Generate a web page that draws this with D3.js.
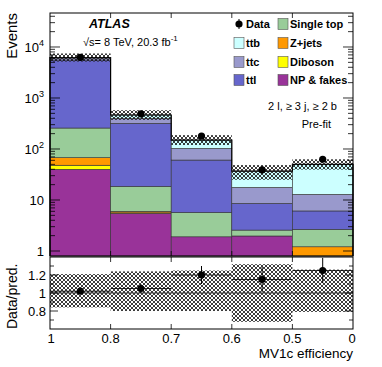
<!DOCTYPE html>
<html>
<head>
<meta charset="utf-8">
<script src="https://cdn.jsdelivr.net/npm/d3@7"></script>
<style>
  body { margin: 0; background: #fff; }
  svg { font-family: "Liberation Sans", Arial, sans-serif; }
</style>
</head>
<body>
<div id="chart"></div>
<script>
// bin edges (MV1c efficiency), 5 bins
const edgeLabels = ["1", "0.8", "0.7", "0.6", "0.5", "0"];
const bins = [0, 1, 2, 3, 4];

// stacked backgrounds, bottom -> top
const keys = ["NP & fakes", "Diboson", "Z+jets", "Single top", "ttl", "ttc", "ttb"];
const npFakes   = [40, 5.5, 1.9, 1.97, 0.2];
const diboson   = [8, 0.1, 0, 0, 0.05];
const zjets     = [19.6, 0.4, 0, 0, 0.96];
const singleTop = [190, 12.5, 3.8, 0.6, 1.45];
const ttl       = [5300, 300, 55, 6.0, 3.44];
const ttc       = [560, 82, 42, 9.1, 6.8];
const ttb       = [50, 64, 47, 19, 37];

const dataVals = [6260, 490, 180, 39, 63];
const dataErr  = [80, 22, 13, 6, 8];

// relative systematic band (up / down)
const uncUp   = [0.21, 0.24, 0.25, 0.32, 0.26];
const uncDown = [0.16, 0.20, 0.20, 0.32, 0.21];

// ratio panel
const ratioVals = [1.02, 1.05, 1.20, 1.15, 1.25];
const ratioErr  = [0.02, 0.05, 0.10, 0.14, 0.14];

const colors = {
  "NP & fakes": "#993399", "Diboson": "#ffff00", "Z+jets": "#ff9900",
  "Single top": "#99cc99", "ttl": "#6666cc", "ttc": "#9999cc", "ttb": "#ccffff"
};

const W = 382, H = 367;
const L = 50, R = 353, mainTop = 13, mainBot = 256, ratTop = 257, ratBot = 329;

const svg = d3.select("#chart").append("svg").attr("width", W).attr("height", H);

const defs = svg.append("defs");
const pat = defs.append("pattern").attr("id", "hatch")
  .attr("patternUnits", "userSpaceOnUse").attr("width", 4).attr("height", 4);
pat.append("path").attr("d", "M0,0 L4,4 M4,0 L0,4 M-1,3 L1,5 M3,-1 L5,1 M-1,1 L1,-1 M3,5 L5,3")
  .attr("stroke", "#1a1a1a").attr("stroke-width", 0.85).attr("fill", "none");

const x = d3.scaleLinear().domain([0, 5]).range([L, R]);
const y = d3.scaleLog().domain([0.798, 46400]).range([mainBot, mainTop]).clamp(true);
const yr = d3.scaleLinear().domain([0.6, 1.4]).range([ratBot, ratTop]);

const table = bins.map(i => ({
  bin: i,
  "NP & fakes": npFakes[i], "Diboson": diboson[i], "Z+jets": zjets[i],
  "Single top": singleTop[i], "ttl": ttl[i], "ttc": ttc[i], "ttb": ttb[i]
}));
const series = d3.stack().keys(keys)(table);
const totals = table.map(d => keys.reduce((s, k) => s + d[k], 0));

// main panel
const main = svg.append("g");
main.selectAll("g.layer").data(series).join("g").attr("class", "layer")
  .attr("fill", d => colors[d.key])
  .selectAll("rect").data(d => d).join("rect")
  .attr("x", d => x(d.data.bin))
  .attr("width", x(1) - x(0))
  .attr("y", d => y(Math.max(d[1], 0.5)))
  .attr("height", d => Math.max(0, y(Math.max(d[0], 0.5)) - y(Math.max(d[1], 0.5))))
  .attr("stroke", "#333").attr("stroke-width", 0.6);

// total outline
const stepPts = [];
bins.forEach(i => { stepPts.push([x(i), y(totals[i])]); stepPts.push([x(i + 1), y(totals[i])]); });
main.append("path")
  .attr("d", `M${x(0)},${mainBot}L` + stepPts.map(p => p.join(",")).join("L") + `L${x(5)},${mainBot}`)
  .attr("fill", "none").attr("stroke", "#000").attr("stroke-width", 1.2);

// uncertainty band
main.selectAll("rect.unc").data(bins).join("rect").attr("class", "unc")
  .attr("x", i => x(i)).attr("width", x(1) - x(0))
  .attr("y", i => y(totals[i] * (1 + uncUp[i])))
  .attr("height", i => y(totals[i] * (1 - uncDown[i])) - y(totals[i] * (1 + uncUp[i])))
  .attr("fill", "url(#hatch)");

// data
main.selectAll("line.err").data(bins).join("line").attr("class", "err")
  .attr("x1", i => x(i + 0.5)).attr("x2", i => x(i + 0.5))
  .attr("y1", i => y(dataVals[i] + dataErr[i])).attr("y2", i => y(dataVals[i] - dataErr[i]))
  .attr("stroke", "#000").attr("stroke-width", 1);
main.selectAll("circle.dat").data(bins).join("circle").attr("class", "dat")
  .attr("cx", i => x(i + 0.5)).attr("cy", i => y(dataVals[i])).attr("r", 3.6).attr("fill", "#000");

// main frame
svg.append("rect").attr("x", L).attr("y", mainTop).attr("width", R - L).attr("height", mainBot - mainTop)
  .attr("fill", "none").attr("stroke", "#000").attr("stroke-width", 1);

// log ticks (left and right, inward)
const logTicks = [];
for (let e = 0; e <= 4; e++) for (let m = 1; m <= 9; m++) logTicks.push({ v: m * Math.pow(10, e), major: m === 1 });
const lt = logTicks.filter(t => t.v >= 0.8 && t.v <= 46400);
svg.append("g").selectAll("line").data(lt).join("line")
  .attr("x1", L).attr("x2", d => L + (d.major ? 10 : 5))
  .attr("y1", d => y(d.v)).attr("y2", d => y(d.v)).attr("stroke", "#000").attr("stroke-width", 0.8);
svg.append("g").selectAll("line").data(lt).join("line")
  .attr("x1", R).attr("x2", d => R - (d.major ? 10 : 5))
  .attr("y1", d => y(d.v)).attr("y2", d => y(d.v)).attr("stroke", "#000").attr("stroke-width", 0.8);

// y tick labels
const ylab = svg.append("g").attr("font-size", 13).attr("text-anchor", "end");
[0, 1, 2, 3, 4].forEach(e => {
  const t = ylab.append("text").attr("x", 44).attr("y", y(Math.pow(10, e)) + 5);
  if (e === 0) t.text("1");
  else if (e === 1) t.text("10");
  else { t.append("tspan").text("10"); t.append("tspan").attr("dy", -6).attr("font-size", 9).text(e); }
});

// x edge ticks on both panels
const edges = d3.range(0, 6);
[[mainTop, 5], [mainBot, -5], [ratTop, 5], [ratBot, -5]].forEach(([yy, len]) => {
  svg.append("g").selectAll("line").data(edges.slice(1, 5)).join("line")
    .attr("x1", d => x(d)).attr("x2", d => x(d)).attr("y1", yy).attr("y2", yy + len)
    .attr("stroke", "#000").attr("stroke-width", 0.8);
});

// ratio panel
const rat = svg.append("g");
rat.selectAll("rect.unc").data(bins).join("rect").attr("class", "unc")
  .attr("x", i => x(i)).attr("width", x(1) - x(0))
  .attr("y", i => yr(1 + uncUp[i])).attr("height", i => yr(1 - uncDown[i]) - yr(1 + uncUp[i]))
  .attr("fill", "url(#hatch)");
rat.append("line").attr("x1", L).attr("x2", R).attr("y1", yr(1)).attr("y2", yr(1))
  .attr("stroke", "#333").attr("stroke-width", 1);
rat.selectAll("line.xerr").data(bins).join("line").attr("class", "xerr")
  .attr("x1", i => x(i)).attr("x2", i => x(i + 1)).attr("y1", i => yr(ratioVals[i])).attr("y2", i => yr(ratioVals[i]))
  .attr("stroke", "#000").attr("stroke-width", 0.8);
rat.selectAll("line.yerr").data(bins).join("line").attr("class", "yerr")
  .attr("x1", i => x(i + 0.5)).attr("x2", i => x(i + 0.5))
  .attr("y1", i => yr(ratioVals[i] + ratioErr[i])).attr("y2", i => yr(ratioVals[i] - ratioErr[i]))
  .attr("stroke", "#000").attr("stroke-width", 1);
rat.selectAll("circle").data(bins).join("circle")
  .attr("cx", i => x(i + 0.5)).attr("cy", i => yr(ratioVals[i])).attr("r", 3.6).attr("fill", "#000");

svg.append("rect").attr("x", L).attr("y", ratTop).attr("width", R - L).attr("height", ratBot - ratTop)
  .attr("fill", "none").attr("stroke", "#000").attr("stroke-width", 1);

const rTicks = [0.7, 0.8, 0.9, 1.0, 1.1, 1.2, 1.3];
const rMajor = [0.8, 1.0, 1.2];
[[L, 1], [R, -1]].forEach(([xx, s]) => {
  svg.append("g").selectAll("line").data(rTicks).join("line")
    .attr("x1", xx).attr("x2", d => xx + s * (rMajor.includes(d) ? 8 : 4))
    .attr("y1", d => yr(d)).attr("y2", d => yr(d)).attr("stroke", "#000").attr("stroke-width", 0.8);
});
svg.append("g").attr("font-size", 13).attr("text-anchor", "end")
  .selectAll("text").data(rMajor).join("text")
  .attr("x", 46).attr("y", d => yr(d) + 5).text(d => d3.format("~g")(d));

// x labels
svg.append("g").attr("font-size", 13).attr("text-anchor", "middle")
  .selectAll("text").data(edges).join("text")
  .attr("x", d => x(d) + (d === 0 ? 1 : d === 5 ? -1 : 0)).attr("y", 343).text(d => edgeLabels[d]);
svg.append("text").attr("x", R).attr("y", 358).attr("text-anchor", "end").attr("font-size", 13.5)
  .text("MV1c efficiency");

// axis titles
svg.append("text").attr("transform", `translate(17,${mainTop}) rotate(-90)`).attr("text-anchor", "end")
  .attr("font-size", 15).text("Events");
svg.append("text").attr("transform", `translate(17,${ratBot}) rotate(-90)`).attr("text-anchor", "start")
  .attr("font-size", 14).text("Data/pred.");

// labels
svg.append("text").attr("x", 89).attr("y", 28).attr("font-size", 12.5).attr("font-weight", "bold")
  .attr("font-style", "italic").text("ATLAS");
const lum = svg.append("text").attr("x", 83).attr("y", 46).attr("font-size", 11);
lum.append("tspan").text("√s= 8 TeV, 20.3 fb");
lum.append("tspan").attr("dy", -5).attr("font-size", 8).text("-1");
svg.append("text").attr("x", 337).attr("y", 110).attr("text-anchor", "end").attr("font-size", 11)
  .text("2 l, ≥ 3 j, ≥ 2 b");
svg.append("text").attr("x", 331).attr("y", 128).attr("text-anchor", "end").attr("font-size", 11)
  .text("Pre-fit");

// legend
const legCol1 = ["Data", "ttb", "ttc", "ttl"];
const legCol2 = ["Single top", "Z+jets", "Diboson", "NP & fakes"];
const legRows = [24, 43, 62, 80];
const leg = svg.append("g").attr("font-size", 11).attr("font-weight", "bold");
[[legCol1, 234], [legCol2, 278]].forEach(([items, lx]) => {
  items.forEach((name, j) => {
    const cy = legRows[j];
    if (name === "Data") {
      leg.append("line").attr("x1", lx + 5).attr("x2", lx + 5).attr("y1", cy - 5).attr("y2", cy + 5)
        .attr("stroke", "#000").attr("stroke-width", 1);
      leg.append("circle").attr("cx", lx + 5).attr("cy", cy).attr("r", 3.6).attr("fill", "#000");
    } else {
      leg.append("rect").attr("x", lx).attr("y", cy - 5.5).attr("width", 10).attr("height", 11)
        .attr("fill", colors[name]).attr("stroke", "#555").attr("stroke-width", 0.6);
    }
    leg.append("text").attr("x", lx + 12).attr("y", cy + 4).text(name);
  });
});
</script>
</body>
</html>
